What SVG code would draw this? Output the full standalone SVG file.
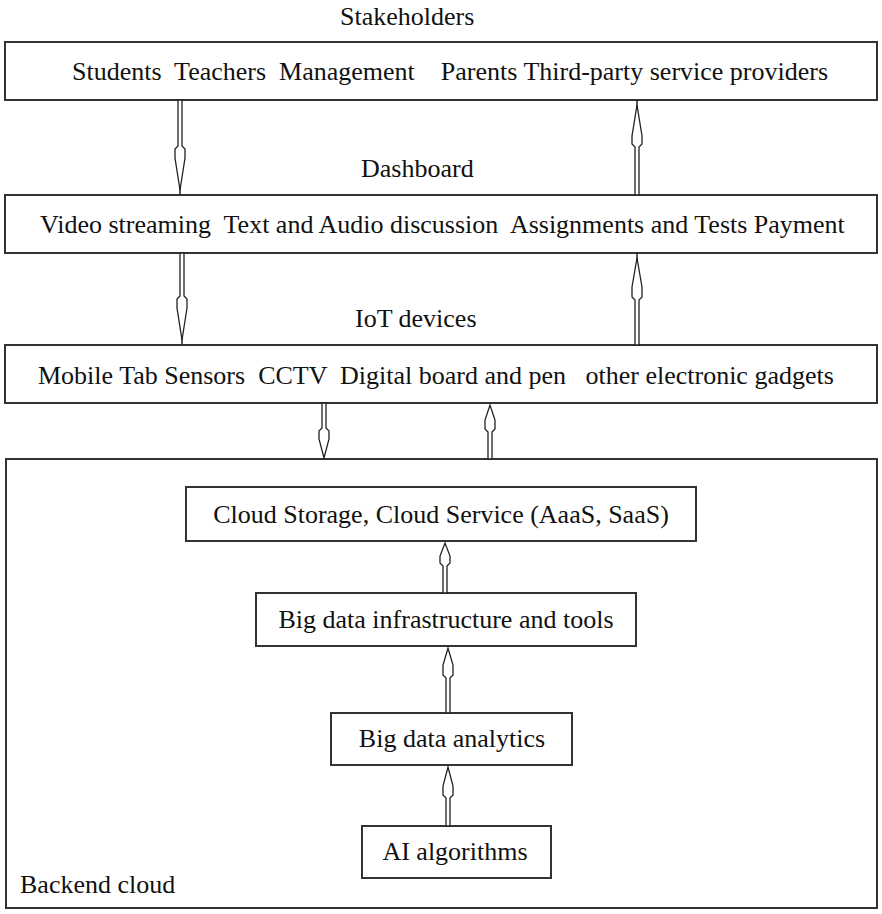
<svg xmlns="http://www.w3.org/2000/svg" width="882" height="914" viewBox="0 0 882 914">
<style>
.box{fill:#fff;stroke:#333;stroke-width:2}
text{font-family:'Liberation Serif','Times New Roman',serif;font-size:26px;fill:#111;white-space:pre}
.c{text-anchor:middle}
.arr{fill:#fff;stroke:#222;stroke-width:1.3;stroke-linejoin:miter}
.ln{stroke:#222;stroke-width:1.5}
</style>
<rect width="882" height="914" fill="#fff"/>
<g id="stakeholders">
<text x="340" y="25">Stakeholders</text>
<rect class="box" x="5" y="42" width="872" height="58"/>
<text x="72" y="80" xml:space="preserve">Students  Teachers  Management    Parents Third-party service providers</text>
</g>
<g id="dashboard">
<text x="361" y="177">Dashboard</text>
<rect class="box" x="5" y="195" width="872" height="58"/>
<text x="40" y="233" xml:space="preserve">Video streaming  Text and Audio discussion  Assignments and Tests Payment</text>
</g>
<g id="iot">
<text x="355" y="327">IoT devices</text>
<rect class="box" x="5" y="345" width="872" height="58"/>
<text x="38" y="384" xml:space="preserve">Mobile Tab Sensors  CCTV  Digital board and pen   other electronic gadgets</text>
</g>
<g id="backend">
<rect class="box" x="6" y="459" width="871" height="449"/>
<text x="20" y="893">Backend cloud</text>
</g>
<g id="cloud">
<rect class="box" x="186" y="487" width="510" height="54"/>
<text class="c" x="441" y="523">Cloud Storage, Cloud Service (AaaS, SaaS)</text>
</g>
<g id="infra">
<rect class="box" x="256" y="593" width="380" height="53"/>
<text class="c" x="446" y="628">Big data infrastructure and tools</text>
</g>
<g id="analytics">
<rect class="box" x="331" y="713" width="241" height="52"/>
<text class="c" x="452" y="747">Big data analytics</text>
</g>
<g id="ai">
<rect class="box" x="362" y="826" width="189" height="52"/>
<text class="c" x="455" y="860">AI algorithms</text>
</g>
<g id="connectors">
<path class="arr" d="M178,100 L178,146 L175,149 L175,158 L180,190 L185,158 L185,149 L182,146 L182,100 Z"/>
<line class="ln" x1="180" y1="188" x2="180" y2="195"/>
<path class="arr" d="M180,253 L180,296 L177,299 L177,308 L182,340 L187,308 L187,299 L184,296 L184,253 Z"/>
<line class="ln" x1="182" y1="338" x2="182" y2="345"/>
<path class="arr" d="M322,403 L322,428 L319,431 L319,439 L324,458 L329,439 L329,431 L326,428 L326,403 Z"/>
<path class="arr" d="M635,195 L635,147 L632,144 L632,136 L637,105 L642,136 L642,144 L639,147 L639,195 Z"/>
<line class="ln" x1="637" y1="100" x2="637" y2="107"/>
<path class="arr" d="M635,345 L635,300 L632,297 L632,287 L637,258 L642,287 L642,297 L639,300 L639,345 Z"/>
<line class="ln" x1="637" y1="253" x2="637" y2="260"/>
<path class="arr" d="M488,459 L488,432 L485,429 L485,420 L490,405 L495,420 L495,429 L492,432 L492,459 Z"/>
<path class="arr" d="M443,593 L443,566 L440,563 L440,556 L445,543 L450,556 L450,563 L447,566 L447,593 Z"/>
<path class="arr" d="M446,713 L446,678 L443,675 L443,665 L448,648 L453,665 L453,675 L450,678 L450,713 Z"/>
<path class="arr" d="M446,826 L446,798 L443,795 L443,786 L448,767 L453,786 L453,795 L450,798 L450,826 Z"/>
</g>
</svg>
